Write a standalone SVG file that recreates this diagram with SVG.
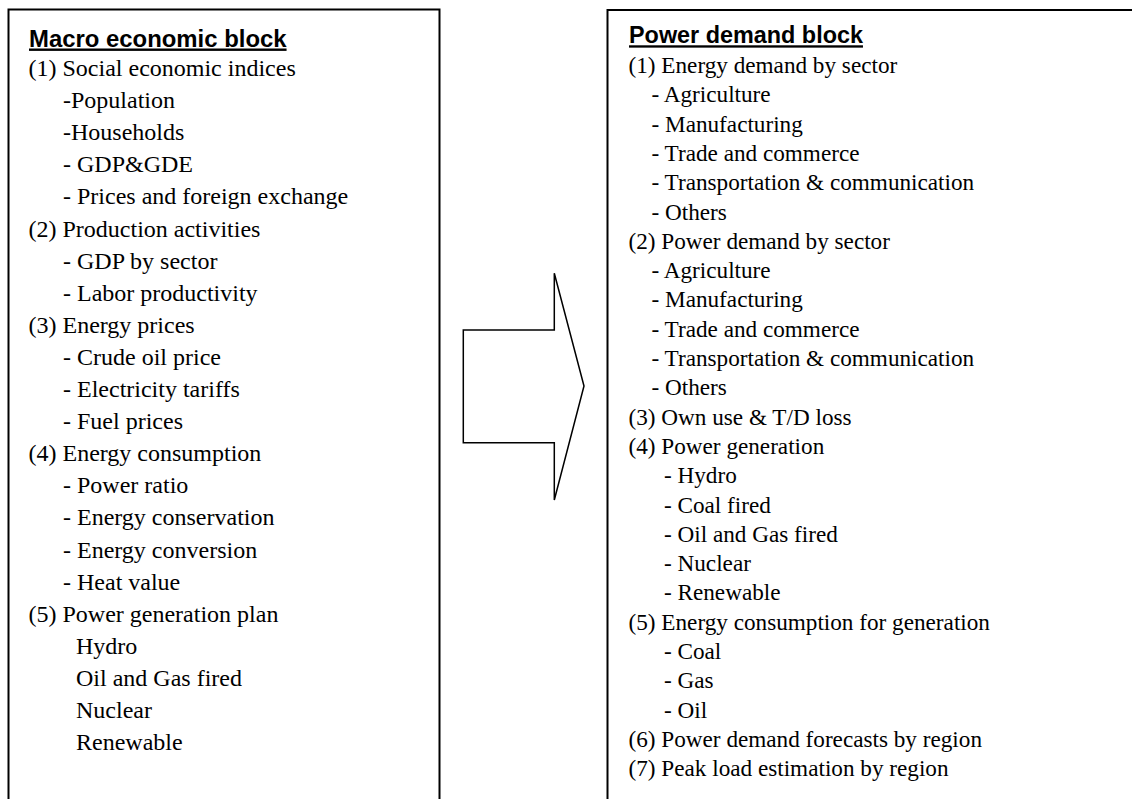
<svg xmlns="http://www.w3.org/2000/svg" width="1132" height="799" viewBox="0 0 1132 799">
<style>
.box{fill:#fff;stroke:#000;stroke-width:2}
.t{font-family:"Liberation Serif","Times New Roman",serif;fill:#000}
.l{font-size:24px}
.r{font-size:23.2px}
.h{font-family:"Liberation Sans",Arial,sans-serif;font-weight:bold;text-decoration:underline;fill:#000}
</style>
<rect x="0" y="0" width="1132" height="799" fill="#fff"/>
<g id="macro">
<rect class="box" x="8.5" y="9.5" width="431" height="820"/>
<text class="h" x="29" y="46.5" font-size="23.9">Macro economic block</text>
<g class="t l">
<text x="28.5" y="76">(1) Social economic indices</text>
<text x="63" y="108.1">-Population</text>
<text x="63" y="140.2">-Households</text>
<text x="63" y="172.3">- GDP&amp;GDE</text>
<text x="63" y="204.4">- Prices and foreign exchange</text>
<text x="28.5" y="236.5">(2) Production activities</text>
<text x="63" y="268.6">- GDP by sector</text>
<text x="63" y="300.7">- Labor productivity</text>
<text x="28.5" y="332.8">(3) Energy prices</text>
<text x="63" y="364.9">- Crude oil price</text>
<text x="63" y="397">- Electricity tariffs</text>
<text x="63" y="429.1">- Fuel prices</text>
<text x="28.5" y="461.2">(4) Energy consumption</text>
<text x="63" y="493.3">- Power ratio</text>
<text x="63" y="525.4">- Energy conservation</text>
<text x="63" y="557.5">- Energy conversion</text>
<text x="63" y="589.6">- Heat value</text>
<text x="28.5" y="621.7">(5) Power generation plan</text>
<text x="76" y="653.8">Hydro</text>
<text x="76" y="685.9">Oil and Gas fired</text>
<text x="76" y="718">Nuclear</text>
<text x="76" y="750.1">Renewable</text>
</g>
</g>
<g id="connectors">
<polygon points="463.3,330 554.3,330 554.3,273.3 584,386 554.3,500 554.3,442.7 463.3,442.7" fill="#fff" stroke="#000" stroke-width="1.5"/>
</g>
<g id="power">
<rect class="box" x="607.5" y="10" width="600" height="820"/>
<text class="h" x="629" y="43.3" font-size="23.4">Power demand block</text>
<g class="t r">
<text x="628.5" y="73">(1) Energy demand by sector</text>
<text x="651.5" y="102.3">- Agriculture</text>
<text x="651.5" y="131.6">- Manufacturing</text>
<text x="651.5" y="160.9">- Trade and commerce</text>
<text x="651.5" y="190.2">- Transportation &amp; communication</text>
<text x="651.5" y="219.5">- Others</text>
<text x="628.5" y="248.8">(2) Power demand by sector</text>
<text x="651.5" y="278.1">- Agriculture</text>
<text x="651.5" y="307.4">- Manufacturing</text>
<text x="651.5" y="336.7">- Trade and commerce</text>
<text x="651.5" y="366">- Transportation &amp; communication</text>
<text x="651.5" y="395.3">- Others</text>
<text x="628.5" y="424.6">(3) Own use &amp; T/D loss</text>
<text x="628.5" y="453.9">(4) Power generation</text>
<text x="664" y="483.2">- Hydro</text>
<text x="664" y="512.5">- Coal fired</text>
<text x="664" y="541.8">- Oil and Gas fired</text>
<text x="664" y="571.1">- Nuclear</text>
<text x="664" y="600.4">- Renewable</text>
<text x="628.5" y="629.7">(5) Energy consumption for generation</text>
<text x="664" y="659">- Coal</text>
<text x="664" y="688.3">- Gas</text>
<text x="664" y="717.6">- Oil</text>
<text x="628.5" y="746.9">(6) Power demand forecasts by region</text>
<text x="628.5" y="776.2">(7) Peak load estimation by region</text>
</g>
</g>
</svg>
